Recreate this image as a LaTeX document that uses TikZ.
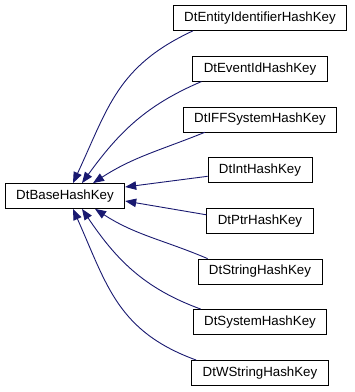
\documentclass[tikz,border=0pt]{standalone}
\usepackage{fontspec}
\setmainfont{Liberation Sans}
\usetikzlibrary{arrows.meta, positioning, calc}
\definecolor{midnightblue}{RGB}{25, 25, 112}

\begin{document}
\begin{tikzpicture}[x=1pt, y=1pt,
  classbox/.style={draw=black, line width=0.8pt, fill=white, inner xsep=11pt, inner ysep=0pt,
    minimum height=25pt, font=\fontsize{13.3}{15}\selectfont},
  inherit/.style={draw=midnightblue, line width=0.9pt, -{Triangle[length=11pt, width=8.5pt]}}]
  \useasboundingbox (0,0) rectangle (355,-392);
  % base class
  \node[classbox] (base) at (65,-196) {DtBaseHashKey};
  % derived classes
  \node[classbox] (ent) at (260,-18) {DtEntityIdentifierHashKey};
  \node[classbox] (evt) at (260,-68.7) {DtEventIdHashKey};
  \node[classbox] (iff) at (260,-119.4) {DtIFFSystemHashKey};
  \node[classbox] (int) at (260,-170.3) {DtIntHashKey};
  \node[classbox] (ptr) at (260,-220.8) {DtPtrHashKey};
  \node[classbox] (str) at (260,-271.5) {DtStringHashKey};
  \node[classbox] (sys) at (260,-322) {DtSystemHashKey};
  \node[classbox] (wst) at (260,-373) {DtWStringHashKey};
  % inheritance arrows
  \draw[inherit] ($(ent.south west)+(20,0)$) to[out=205, in=65, looseness=1.1] ($(base.north)+(8,0)$);
  \draw[inherit] ($(evt.south west)+(9,0)$) to[out=203, in=54] ($(base.north)+(17,0)$);
  \draw[inherit] ($(iff.south west)+(22,0)$) to[out=202, in=33] ($(base.north)+(28,0)$);
  \draw[inherit] ($(int.west)+(0,-6)$) -- ($(base.east)+(0,9)$);
  \draw[inherit] ($(ptr.west)+(0,6)$) -- ($(base.east)+(0,-5)$);
  \draw[inherit] ($(str.north west)+(10,0)$) to[out=157, in=-33] ($(base.south)+(30,0)$);
  \draw[inherit] ($(sys.north west)+(8,0)$) to[out=160, in=-56] ($(base.south)+(17,0)$);
  \draw[inherit] ($(wst.north west)+(5,0)$) to[out=160, in=-66, looseness=1.1] ($(base.south)+(8,0)$);
\end{tikzpicture}
\end{document}
